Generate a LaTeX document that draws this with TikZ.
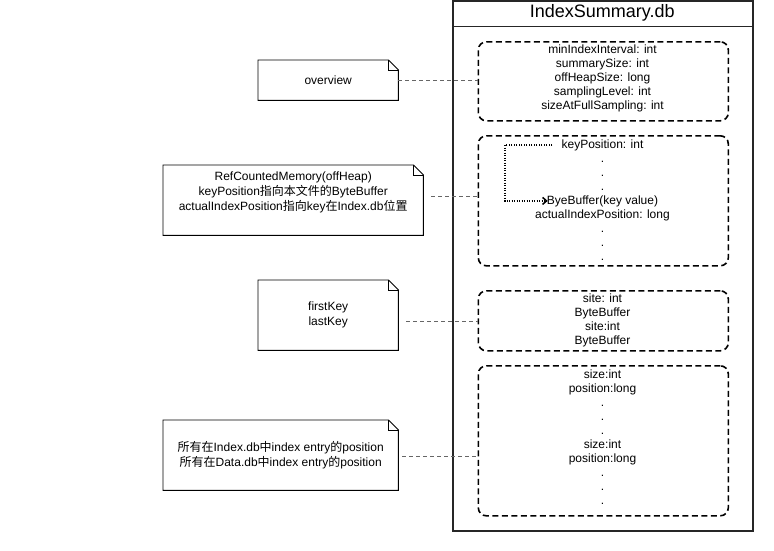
\documentclass[tikz,border=0pt]{standalone}
\usepackage{fontspec}
\setmainfont{Liberation Sans}
\newfontfamily\cjk{Noto Sans CJK SC}
\usetikzlibrary{arrows.meta}
\begin{document}
\begin{tikzpicture}[x=1pt,y=-1pt,
  txt/.style={inner sep=0pt,anchor=base,font=\fontsize{12}{14}\selectfont},
  notetxt/.style={inner sep=0pt,align=center,font=\fontsize{12}{15}\selectfont},
  grp/.style={draw=black,line width=1.6pt,dash pattern=on 6pt off 3.5pt,rounded corners=8pt,inner sep=0pt},
  notebox/.style={inner sep=0pt},
  link/.style={draw=black!60,line width=1pt,dash pattern=on 4pt off 3pt},
  dotarrow/.style={draw=black,line width=1.5pt,dash pattern=on 1.2pt off 1.3pt,-{Straight Barb[length=4pt,width=7pt]}},
  outer/.style={draw=black!85,line width=1.5pt}
]
\useasboundingbox (0,0) rectangle (774,550);
\def\notedraw#1{\draw[line width=0.9pt] (#1.north west) -- ([xshift=-10pt]#1.north east) -- ([yshift=-10pt]#1.north east) -- (#1.south east) -- (#1.south west) -- cycle;
  \draw[line width=0.9pt] ([xshift=-10pt]#1.north east) -- ([xshift=-10pt,yshift=-10pt]#1.north east) -- ([yshift=-10pt]#1.north east);}

% outer box
\node[outer,minimum width=300pt,minimum height=530pt,inner sep=0pt,anchor=north west] (outer) at (452,0) {};
\node[inner sep=0pt,minimum width=300pt,minimum height=26pt,anchor=north west,font=\fontsize{18}{20}\selectfont] (title) at (452,0) {IndexSummary.db};
\draw[outer] (title.south west) -- (title.south east);

% group boxes
\node[grp,minimum width=250pt,minimum height=79pt,anchor=north west] (b1) at (477.5,41) {};
\node[grp,minimum width=250pt,minimum height=130pt,anchor=north west] (b2) at (477.5,135) {};
\node[grp,minimum width=250pt,minimum height=60pt,anchor=north west] (b3) at (477.5,290) {};
\node[grp,minimum width=250pt,minimum height=150pt,anchor=north west] (b4) at (477.5,365) {};

% texts
\foreach \t [count=\i] in {minIndexInterval: int,summarySize: int,offHeapSize: long,samplingLevel: int,sizeAtFullSampling: int}
  \node[txt] (b1l\i) at (602.5,{53+14*(\i-1)}) {\t};
\foreach \t [count=\i] in {keyPosition: int,.,.,.,ByeBuffer(key value),actualIndexPosition: long,.,.,.}
  \node[txt] (b2l\i) at (602.5,{148+14*(\i-1)}) {\t};
\foreach \t [count=\i] in {site: int,ByteBuffer,site:int,ByteBuffer}
  \node[txt] (b3l\i) at (602.5,{302.5+14*(\i-1)}) {\t};
\foreach \t [count=\i] in {size:int,position:long,.,.,.,size:int,position:long,.,.,.}
  \node[txt] (b4l\i) at (602.5,{378+14*(\i-1)}) {\t};

% dotted arrow
\coordinate (cornerx) at (505,0);
\draw[dotarrow] ([xshift=-9pt]b2l1.west) -- (cornerx |- b2l1.west) -- (cornerx |- b2l5.west) -- ([xshift=1pt]b2l5.west);

% notes
\node[notebox,minimum width=140pt,minimum height=40pt,anchor=north west] (n1) at (258,60) {};
\notedraw{n1}
\node[notetxt] (n1t) at (n1.center) {overview};

\node[notebox,minimum width=260pt,minimum height=70pt,anchor=north west] (n2) at (163,165) {};
\notedraw{n2}
\node[notetxt] (n2t) at ([yshift=8pt]n2.center) {RefCountedMemory(offHeap)\\keyPosition{\cjk 指向本文件的}ByteBuffer\\actualIndexPosition{\cjk 指向}key{\cjk 在}Index.db{\cjk 位置}};

\node[notebox,minimum width=140pt,minimum height=70pt,anchor=north west] (n3) at (258,280) {};
\notedraw{n3}
\node[notetxt] (n3t) at (n3.center) {firstKey\\lastKey};

\node[notebox,minimum width=235pt,minimum height=70pt,anchor=north west] (n4) at (163,420) {};
\notedraw{n4}
\node[notetxt] (n4t) at (n4.center) {{\cjk 所有在}Index.db{\cjk 中}index entry{\cjk 的}position\\{\cjk 所有在}Data.db{\cjk 中}index entry{\cjk 的}position};

% connectors
\draw[link] (n1.east) -- (n1.east -| b1.west);
\draw[link] ([xshift=8pt,yshift=4pt]n2.east) -- ([yshift=4pt]n2.east -| b2.west);
\draw[link] ([xshift=8pt,yshift=-6pt]n3.east) -- ([yshift=-6pt]n3.east -| b3.west);
\draw[link] ([xshift=4pt,yshift=-1pt]n4.east) -- ([yshift=-1pt]n4.east -| b4.west);
\end{tikzpicture}
\end{document}
